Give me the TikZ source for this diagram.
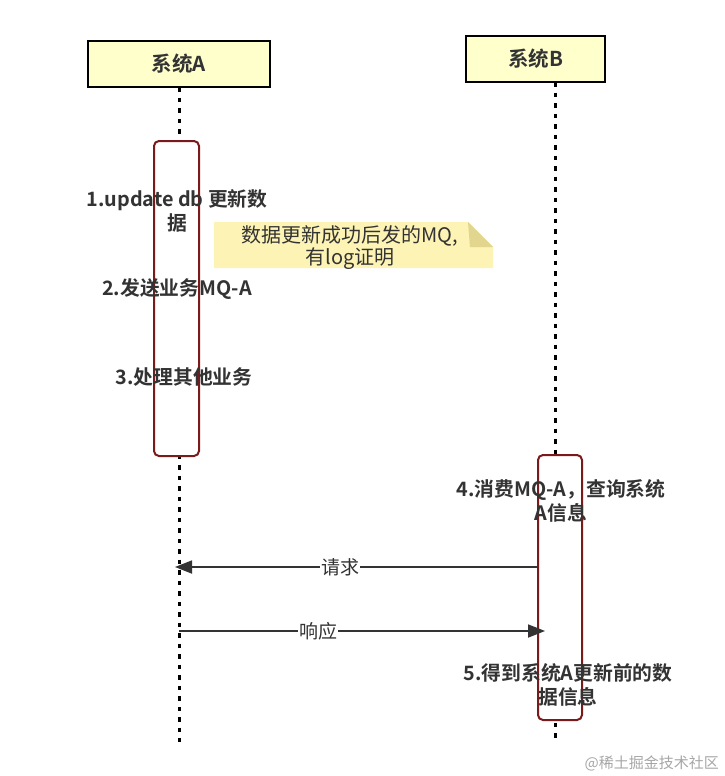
\documentclass[tikz,border=0pt]{standalone}
\usepackage{fontspec}
\setmainfont{Noto Sans CJK SC}
\newfontfamily\cjkbold{Noto Sans CJK SC Bold}
\usetikzlibrary{arrows.meta}
\definecolor{boxfill}{HTML}{FFFFCC}
\definecolor{notefill}{HTML}{FCF3B4}
\definecolor{notefold}{HTML}{E2D58E}
\definecolor{actred}{HTML}{7B1A1A}
\definecolor{txt}{HTML}{333333}
\begin{document}
\begin{tikzpicture}[x=1pt,y=-1pt,
  actor/.style={draw=black,line width=2.6pt,fill=boxfill,minimum height=46pt,inner sep=0pt,font=\cjkbold\fontsize{20.5}{24}\selectfont,text=txt},
  lifeline/.style={line width=3pt,dash pattern=on 4.5pt off 6pt},
  actbox/.style={draw=actred,line width=2pt,fill=white,rounded corners=5pt},
  steptext/.style={font=\cjkbold\fontsize{19.8}{24}\selectfont,text=txt,align=center,inner sep=0pt},
  msg/.style={draw=txt,line width=1.8pt,-{Triangle[length=17pt,width=13pt]}},
  msglabel/.style={fill=white,font=\fontsize{19}{22}\selectfont,text=txt,inner sep=1pt}]
\useasboundingbox (0,0) rectangle (725,776);
% actors
\node[actor,minimum width=182pt] (A) at (179,64) {系统A};
\node[actor,minimum width=139pt] (B) at (535.5,59) {系统B};
% lifelines
\coordinate (Atop) at (179,87);
\coordinate (Btop) at (555,82);
\coordinate (Aend) at (179,742);
\coordinate (Bend) at (555,742);
\draw[lifeline] (Atop) -- (Aend);
\draw[lifeline] (Btop) -- (Bend);
% activations
\draw[actbox] (154,141) rectangle (199,456);
\draw[actbox] (538,455) rectangle (582,720);
% note
\fill[notefill] (214,222) -- (468,222) -- (493,247) -- (493,268) -- (214,268) -- cycle;
\fill[notefold] (468,222) -- (493,247) -- (470,247) -- cycle;
\node[font=\fontsize{20}{22}\selectfont,text=txt,align=center,inner sep=0pt] (note) at (350,248) {数据更新成功后发的MQ,\\有log证明};
% step texts
\node[steptext] (s1) at (177,211) {1.update db 更新数\\据};
\node[steptext] (s2) at (177,289) {2.发送业务MQ-A};
\node[steptext] (s3) at (184,377) {3.处理其他业务};
\node[steptext] (s4) at (561,501) {4.消费MQ-A，查询系统\\A信息};
\node[steptext] (s5) at (568,685) {5.得到系统A更新前的数\\据信息};
% messages
\coordinate (reqS) at (538,567);
\coordinate (reqE) at (175,567);
\coordinate (resS) at (179,631);
\coordinate (resE) at (545,631);
\draw[msg] (reqS) -- node[msglabel,pos=0.545] (lreq) {请求} (reqE);
\draw[msg] (resS) -- node[msglabel,pos=0.38] (lres) {响应} (resE);
% watermark
\node[anchor=east,font=\fontsize{15}{18}\selectfont,text=black!35,inner sep=0pt] (wm) at (719,763) {@稀土掘金技术社区};
\end{tikzpicture}
\end{document}
